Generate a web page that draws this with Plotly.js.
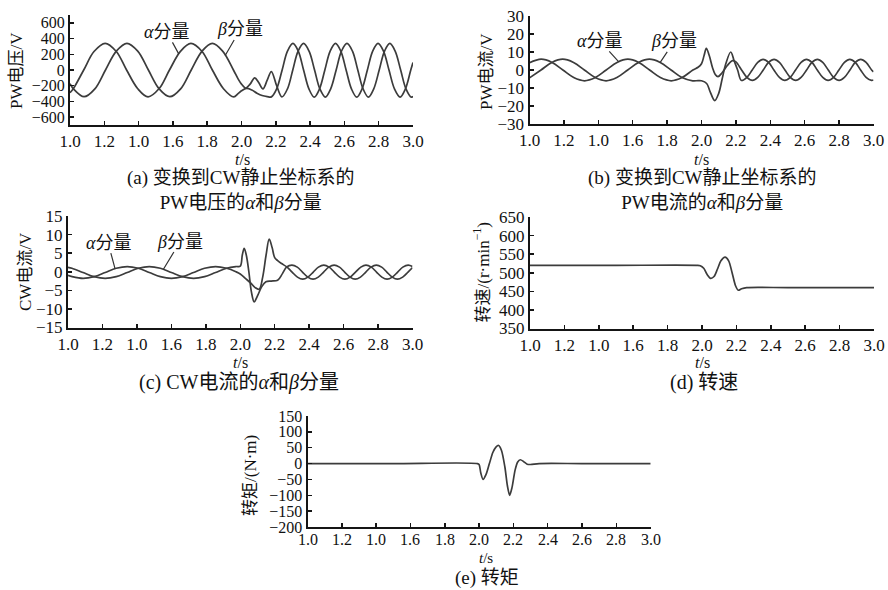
<!DOCTYPE html>
<html>
<head>
<meta charset="utf-8">
<script src="https://cdn.plot.ly/plotly-3.0.1.min.js"></script>
<style>html,body{margin:0;padding:0;background:#fff;}#chart{width:888px;height:590px;}</style>
</head>
<body>
<div id="chart"></div>
<script>
// ---------- data ----------
const xTickVals = [1.0, 1.2, 1.4, 1.6, 1.8, 2.0, 2.2, 2.4, 2.6, 2.8, 3.0];
const xTickText = ["1.0", "1.2", "1.0", "1.6", "1.8", "2.0", "2.2", "2.4", "2.6", "2.8", "3.0"];

// (a) PW voltage
const tA_alpha = [1.0,1.02,1.08,1.14,1.205,1.27,1.33,1.395,1.455,1.52,1.58,1.645,1.705,1.77,1.83,1.895,1.955,1.98,2.0,2.03,2.06,2.09,2.12,2.15,2.174,2.205,2.237,2.268,2.30,2.331,2.362,2.393,2.424,2.455,2.486,2.517,2.548,2.579,2.61,2.641,2.672,2.703,2.734,2.765,2.796,2.828,2.86,2.892,2.925,2.956,2.987,3.0];
const vA_alpha = [-290,-236,0,235,340,236,0,-238,-342,-236,0,240,338,236,0,-238,-342,-300,-265,-235,-255,-295,-325,-338,-342,-240,0,240,338,240,0,-240,-345,-240,0,240,338,240,0,-240,-345,-240,0,240,338,240,0,-240,-345,-240,0,95];
const tA_beta = [1.0,1.02,1.082,1.145,1.207,1.27,1.332,1.395,1.457,1.52,1.582,1.645,1.707,1.77,1.83,1.89,1.953,1.98,2.0,2.025,2.05,2.077,2.10,2.125,2.15,2.174,2.205,2.236,2.268,2.299,2.33,2.362,2.394,2.426,2.457,2.489,2.52,2.552,2.583,2.615,2.647,2.678,2.709,2.74,2.771,2.803,2.834,2.865,2.896,2.928,2.959,2.99,3.0];
const vA_beta = [-175,-240,-340,-240,0,240,340,240,0,-240,-340,-240,0,240,338,240,0,-113,-180,-230,-180,-100,-160,-240,-130,-20,-200,-342,-240,0,240,338,240,0,-240,-345,-240,0,240,338,240,0,-240,-345,-240,0,240,338,240,0,-240,-345,-335];

// (b) PW current
const tB_alpha = [1.0,1.068,1.131,1.194,1.257,1.32,1.383,1.446,1.509,1.572,1.635,1.698,1.761,1.824,1.887,1.95,1.98,2.0,2.015,2.028,2.045,2.065,2.08,2.096,2.12,2.15,2.18,2.20,2.233,2.264,2.296,2.327,2.359,2.39,2.422,2.453,2.485,2.516,2.548,2.579,2.611,2.642,2.674,2.705,2.737,2.768,2.80,2.831,2.863,2.894,2.926,2.957,2.989,3.0];
const vB_alpha = [4.0,6.0,4.2,0,-4.2,-6.0,-4.2,0,4.2,6.0,4.2,0,-4.2,-6.0,-4.2,0,1.5,3.5,8.0,12.0,8.0,1.0,-2.5,-3.7,-1.5,2.5,5.2,4.5,0,-4.1,-5.8,-4.1,0,4.2,5.9,4.2,0,-4.1,-5.8,-4.1,0,4.2,5.9,4.2,0,-4.1,-5.8,-4.1,0,4.2,5.9,4.2,0,-1.0];
const tB_beta = [1.0,1.067,1.13,1.193,1.256,1.319,1.382,1.445,1.508,1.571,1.634,1.697,1.76,1.823,1.886,1.949,1.98,2.0,2.03,2.05,2.077,2.10,2.12,2.14,2.17,2.19,2.21,2.232,2.264,2.295,2.327,2.358,2.39,2.421,2.453,2.484,2.516,2.547,2.579,2.61,2.642,2.673,2.705,2.736,2.768,2.799,2.831,2.862,2.894,2.925,2.957,2.988,3.0];
const vB_beta = [-4.4,0,4.2,6.0,4.2,0,-4.2,-6.0,-4.2,0,4.2,6.0,4.2,0,-4.2,-6.0,-5.9,-6.0,-7.5,-12.0,-17.0,-13.0,-5.0,3.0,10.0,5.0,0,-5.8,-4.1,0,4.2,5.9,4.2,0,-4.1,-5.8,-4.1,0,4.2,5.9,4.2,0,-4.1,-5.8,-4.1,0,4.2,5.9,4.2,0,-4.1,-5.8,-5.6];

// (c) CW current
const tC_alpha = [1.0,1.024,1.088,1.152,1.216,1.28,1.344,1.408,1.472,1.536,1.60,1.665,1.729,1.793,1.857,1.921,1.975,2.0,2.03,2.06,2.085,2.11,2.13,2.15,2.168,2.185,2.20,2.217,2.24,2.27,2.301,2.332,2.3625,2.393,2.424,2.454,2.485,2.516,2.546,2.577,2.6075,2.638,2.669,2.70,2.73,2.761,2.791,2.822,2.8525,2.883,2.914,2.944,2.975,3.0];
const vC_alpha = [-0.97,-1.33,-1.8,-1.33,-0.2,0.93,1.4,0.93,-0.2,-1.33,-1.8,-1.33,-0.2,0.93,1.4,0.93,0.0,-0.6,-1.8,-3.0,-4.2,-4.7,-1.5,4.5,8.8,6.5,3.8,3.0,2.2,1.3,-0.1,-1.44,-2.0,-1.44,-0.1,1.24,1.8,1.24,-0.1,-1.44,-2.0,-1.44,-0.1,1.24,1.8,1.24,-0.1,-1.44,-2.0,-1.44,-0.1,1.24,1.8,1.4];
const tC_beta = [1.0,1.023,1.087,1.151,1.216,1.28,1.344,1.408,1.472,1.536,1.60,1.665,1.729,1.793,1.857,1.921,1.975,2.0,2.012,2.023,2.035,2.05,2.065,2.081,2.10,2.125,2.149,2.18,2.217,2.245,2.27,2.30,2.331,2.361,2.392,2.4225,2.453,2.484,2.514,2.545,2.576,2.606,2.637,2.6675,2.698,2.729,2.759,2.79,2.821,2.851,2.882,2.9125,2.943,2.974,3.0];
const vC_beta = [1.2,0.93,-0.2,-1.33,-1.8,-1.33,-0.2,0.93,1.4,0.93,-0.2,-1.33,-1.8,-1.33,-0.2,0.93,1.4,1.5,4.5,6.3,4.5,0,-5.5,-8.1,-6.5,-4.0,-2.7,-2.5,-2.3,-0.5,1.3,1.8,1.24,-0.1,-1.44,-2.0,-1.44,-0.1,1.24,1.8,1.24,-0.1,-1.44,-2.0,-1.44,-0.1,1.24,1.8,1.24,-0.1,-1.44,-2.0,-1.44,-0.1,1.1];

// (d) speed
const tD = [1.0,1.5,1.97,1.99,2.01,2.03,2.05,2.07,2.09,2.11,2.134,2.155,2.175,2.195,2.211,2.23,2.26,2.5,3.0];
const vD = [520,520,520,519,512,495,485,490,510,532,542,532,500,465,453,457,460,460,460];

// (e) torque
const tE = [1.0,1.5,1.99,2.0,2.01,2.023,2.04,2.06,2.08,2.098,2.114,2.13,2.15,2.165,2.178,2.192,2.21,2.225,2.24,2.26,2.28,2.30,2.35,2.6,3.0];
const vE = [0,0,0,-3,-30,-50,-35,0,35,52,57,42,-10,-70,-100,-75,-20,5,12,6,-2,-3,0,0,0];

// ---------- drawing ----------
const W = 888, H = 590;
const FONT = "'Liberation Serif', 'Noto Sans CJK SC', serif";
const LINE = '#3c3c3c';
const AX = '#151515';
const dom = (l, r) => [l / W, r / W];
const domY = (top, bot) => [1 - bot / H, 1 - top / H];

function line(x, y, xa, ya, smooth) {
  return {x: x, y: y, xaxis: xa, yaxis: ya, type: 'scatter', mode: 'lines',
    line: {color: LINE, width: 1.7, shape: 'spline', smoothing: smooth}, hoverinfo: 'skip'};
}
const data = [
  line(tA_alpha, vA_alpha, 'x', 'y', 1.0),
  line(tA_beta, vA_beta, 'x', 'y', 1.0),
  line(tB_alpha, vB_alpha, 'x2', 'y2', 1.0),
  line(tB_beta, vB_beta, 'x2', 'y2', 1.0),
  line(tC_alpha, vC_alpha, 'x3', 'y3', 1.0),
  line(tC_beta, vC_beta, 'x3', 'y3', 1.0),
  line(tD, vD, 'x4', 'y4', 0.8),
  line(tE, vE, 'x5', 'y5', 0.8)
];

function xax(d, anchor, showLabels) {
  return {domain: d, anchor: anchor, range: [1, 3], tickmode: 'array', tickvals: xTickVals, ticktext: xTickText,
    showticklabels: showLabels, tickfont: {family: FONT, size: 17, color: '#111'},
    ticks: 'inside', ticklen: 4, tickwidth: 1.5, tickcolor: AX, showline: true, linecolor: AX, linewidth: 2,
    showgrid: false, zeroline: false, fixedrange: true};
}
function yax(d, anchor, range, dtick, fs) {
  return {domain: d, anchor: anchor, range: range, tick0: range[0], dtick: dtick, tickmode: 'linear',
    ticks: 'inside', ticklen: 4, tickwidth: 1.5, tickcolor: AX, showline: true, linecolor: AX, linewidth: 2,
    showgrid: false, zeroline: false, tickfont: {family: FONT, size: fs, color: '#111'}, fixedrange: true};
}
const yA = yax(domY(15, 125), 'x', [-700, 700], 200, 16); yA.tickmode = 'array'; yA.tickvals = [-600,-400,-200,0,200,400,600];
const yB = yax(domY(16, 124), 'x2', [-30, 30], 10, 17);
const yC = yax(domY(216, 327.5), 'x3', [-15, 15], 5, 17);
const yD = yax(domY(217, 328.5), 'x4', [350, 650], 50, 17);
const yE = yax(domY(416, 527), 'x5', [-200, 150], 50, 16);

function txt(text, px, py, size, angle) {
  return {text: text, xref: 'paper', yref: 'paper', x: px / W, y: 1 - py / H, xanchor: 'center', yanchor: 'middle',
    showarrow: false, textangle: angle || 0, borderpad: 0, font: {family: FONT, size: size, color: '#111'}};
}
function lbl(text, xr, yr, tx, ty, ax, ay) {
  return {text: text, xref: xr, yref: yr, x: tx, y: ty, ax: ax, ay: ay, showarrow: true, arrowhead: 0,
    arrowwidth: 1.2, arrowcolor: '#333', standoff: 0, startstandoff: 0, borderpad: 0,
    font: {family: FONT, size: 18, color: '#111'}};
}
// x tick labels of panel (e), which sit closer to its axis in the reference
function xLabels(xr, py) {
  return xTickVals.map((v, i) => ({text: xTickText[i], xref: xr, yref: 'paper', x: v, y: 1 - py / H,
    xanchor: 'center', yanchor: 'middle', showarrow: false, borderpad: 0,
    font: {family: FONT, size: 16, color: '#111'}}));
}
const annotations = [].concat(
  xLabels('x5', 539),
  [
  // y-axis titles
  txt('PW电压/V', 16, 71, 17, -90),
  txt('PW电流/V', 486, 71, 17, -90),
  txt('CW电流/V', 25, 272, 17, -90),
  txt('转速/(r·min<sup>−1</sup>)', 481.5, 273, 17, -90),
  txt('转矩/(N·m)', 250, 476, 17, -90),
  // x-axis titles
  txt('<i>t</i>/s', 243, 160, 16),
  txt('<i>t</i>/s', 701.5, 160, 16),
  txt('<i>t</i>/s', 240, 362, 16),
  txt('<i>t</i>/s', 702, 362.5, 16),
  txt('<i>t</i>/s', 486, 558, 15),
  // captions
  txt('(a) 变换到CW静止坐标系的<br>PW电压的<i>α</i>和<i>β</i>分量', 240, 190, 19),
  txt('(b) 变换到CW静止坐标系的<br>PW电流的<i>α</i>和<i>β</i>分量', 702.5, 190, 19),
  txt('(c) CW电流的<i>α</i>和<i>β</i>分量', 239, 382, 20),
  txt('(d) 转速', 703.5, 382, 20),
  txt('(e) 转矩', 486.7, 578, 19),
  // component labels with leader lines
  lbl('<i>α</i>分量', 'x', 'y', 1.634, 205, -12, -22),
  lbl('<i>β</i>分量', 'x', 'y', 1.905, 185, 15, -26),
  lbl('<i>α</i>分量', 'x2', 'y2', 1.519, 4.5, -19, -21),
  lbl('<i>β</i>分量', 'x2', 'y2', 1.76, 4.2, 14, -21),
  lbl('<i>α</i>分量', 'x3', 'y3', 1.273, 0.85, -7, -26),
  lbl('<i>β</i>分量', 'x3', 'y3', 1.553, 0.6, 17, -28)
  ]);

const layout = {
  width: W, height: H, margin: {l: 0, r: 0, t: 0, b: 0}, showlegend: false,
  paper_bgcolor: '#fff', plot_bgcolor: 'rgba(0,0,0,0)',
  font: {family: FONT, color: '#111'},
  xaxis: xax(dom(70, 413), 'y', true), yaxis: yA,
  xaxis2: xax(dom(529.5, 873.5), 'y2', true), yaxis2: yB,
  xaxis3: xax(dom(68, 412.5), 'y3', true), yaxis3: yC,
  xaxis4: xax(dom(530, 874), 'y4', true), yaxis4: yD,
  xaxis5: xax(dom(307.5, 650.7), 'y5', false), yaxis5: yE,
  annotations: annotations
};
Plotly.newPlot('chart', data, layout, {displayModeBar: false, staticPlot: true});
</script>
</body>
</html>
